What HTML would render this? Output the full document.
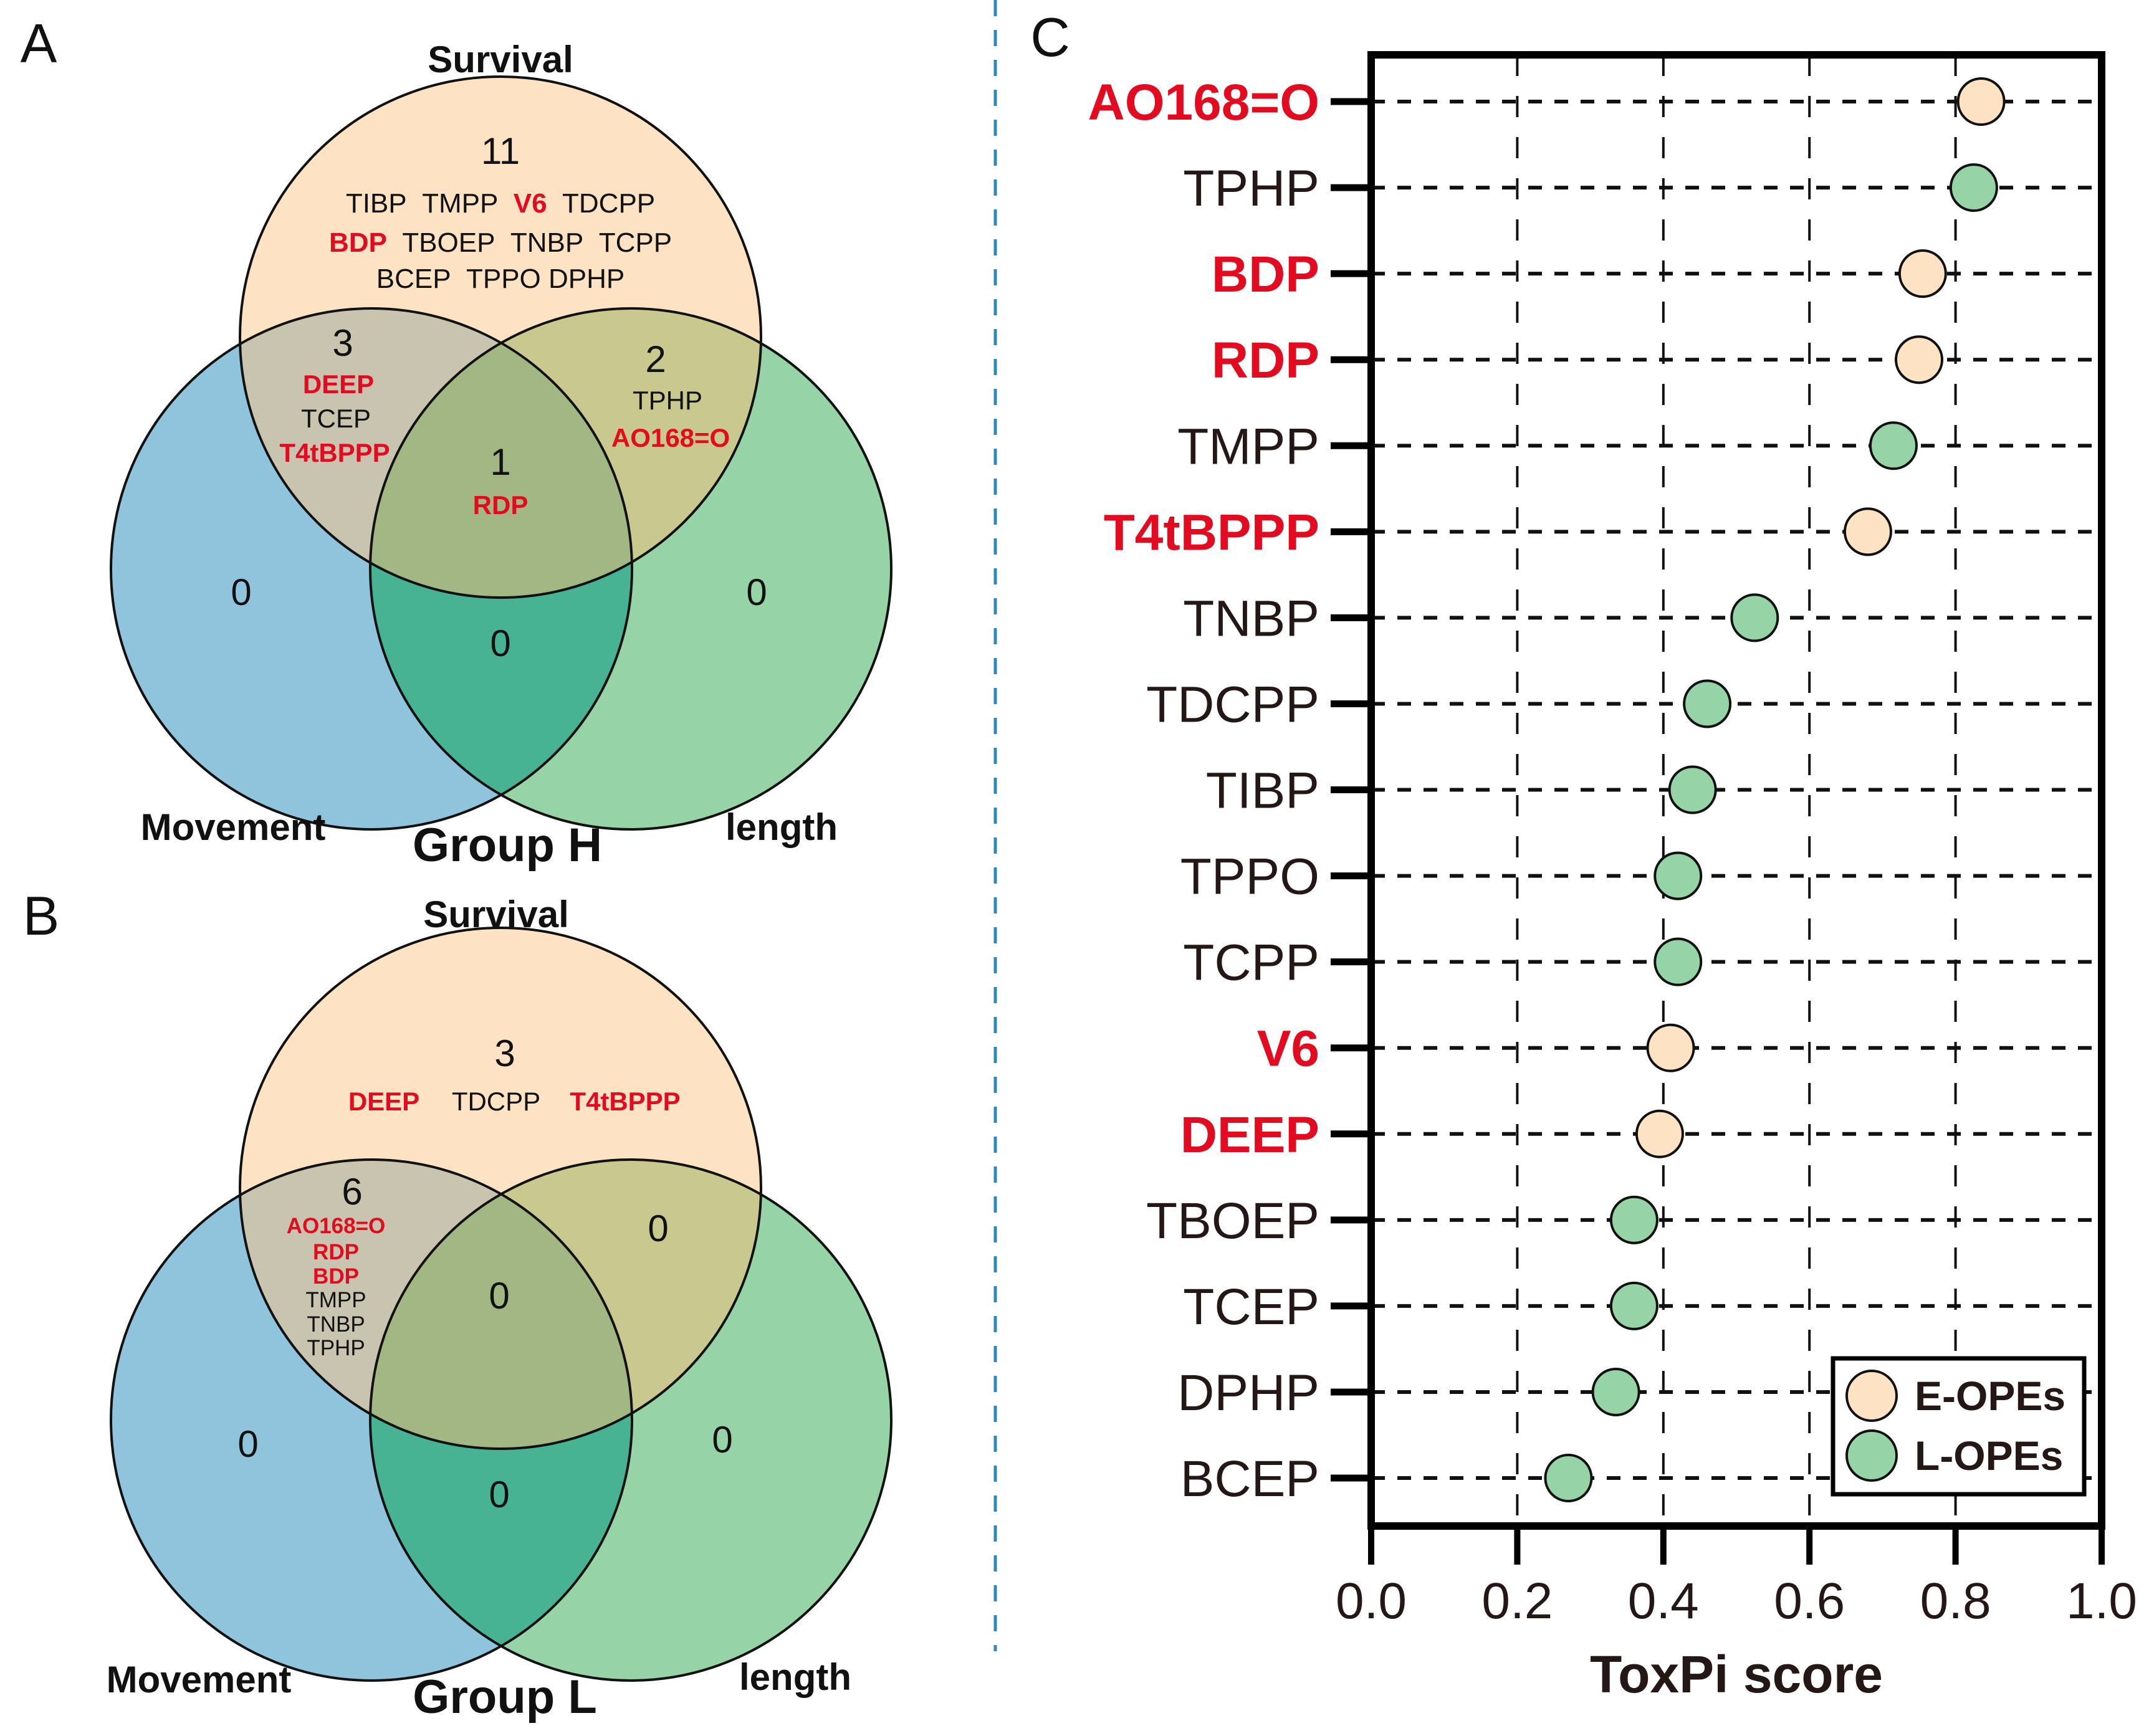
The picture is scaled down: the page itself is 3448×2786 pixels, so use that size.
<!DOCTYPE html>
<html><head><meta charset="utf-8"><style>
html,body{margin:0;padding:0;background:#fff;}
svg{display:block;font-family:"Liberation Sans",Arial,sans-serif;}
</style></head><body>
<svg id="fig" width="3448" height="2786" viewBox="0 0 3448 2786" xmlns="http://www.w3.org/2000/svg">
<defs>
 <clipPath id="cTA"><circle cx="803" cy="541" r="418"/></clipPath>
 <clipPath id="cLA"><circle cx="596" cy="913" r="418"/></clipPath>
 <clipPath id="cRA"><circle cx="1012" cy="913" r="418"/></clipPath>
 <clipPath id="cTB"><circle cx="803" cy="1907" r="418"/></clipPath>
 <clipPath id="cLB"><circle cx="596" cy="2279" r="418"/></clipPath>
 <clipPath id="cRB"><circle cx="1012" cy="2279" r="418"/></clipPath>
</defs>

<!-- Venn A -->
<g>
 <circle cx="596" cy="913" r="418" fill="#90c4dc"/>
 <circle cx="1012" cy="913" r="418" fill="#96d4a8"/>
 <circle cx="803" cy="541" r="418" fill="#fde3c3"/>
 <g clip-path="url(#cLA)"><circle cx="1012" cy="913" r="418" fill="#47b393"/><circle cx="803" cy="541" r="418" fill="#c9c4b0"/></g>
 <g clip-path="url(#cRA)"><circle cx="803" cy="541" r="418" fill="#c9c98f"/></g>
 <g clip-path="url(#cLA)"><g clip-path="url(#cRA)"><circle cx="803" cy="541" r="418" fill="#a3b784"/></g></g>
 <g fill="none" stroke="#111" stroke-width="4">
  <circle cx="803" cy="541" r="418"/><circle cx="596" cy="913" r="418"/><circle cx="1012" cy="913" r="418"/>
 </g>
</g>
<!-- Venn B -->
<g>
 <circle cx="596" cy="2279" r="418" fill="#90c4dc"/>
 <circle cx="1012" cy="2279" r="418" fill="#96d4a8"/>
 <circle cx="803" cy="1907" r="418" fill="#fde3c3"/>
 <g clip-path="url(#cLB)"><circle cx="1012" cy="2279" r="418" fill="#47b393"/><circle cx="803" cy="1907" r="418" fill="#c9c4b0"/></g>
 <g clip-path="url(#cRB)"><circle cx="803" cy="1907" r="418" fill="#c9c98f"/></g>
 <g clip-path="url(#cLB)"><g clip-path="url(#cRB)"><circle cx="803" cy="1907" r="418" fill="#a3b784"/></g></g>
 <g fill="none" stroke="#111" stroke-width="4">
  <circle cx="803" cy="1907" r="418"/><circle cx="596" cy="2279" r="418"/><circle cx="1012" cy="2279" r="418"/>
 </g>
</g>

<g text-anchor="middle" fill="#111">
 <text x="62" y="100" font-size="88" text-anchor="middle">A</text>
 <text x="803" y="116" font-size="60" font-weight="bold">Survival</text>
 <text x="803" y="263" font-size="60">11</text>
 <text x="803" y="341" font-size="44">TIBP&#160;&#160;TMPP&#160;&#160;<tspan fill="#e30b1f" font-weight="bold">V6</tspan>&#160;&#160;TDCPP</text>
 <text x="803" y="404" font-size="44"><tspan fill="#e30b1f" font-weight="bold">BDP</tspan>&#160;&#160;TBOEP&#160;&#160;TNBP&#160;&#160;TCPP</text>
 <text x="803" y="462" font-size="44">BCEP&#160;&#160;TPPO&#160;DPHP</text>
 <text x="550" y="571" font-size="60">3</text>
 <text x="543" y="631" font-size="42" font-weight="bold" fill="#e30b1f">DEEP</text>
 <text x="539" y="686" font-size="42">TCEP</text>
 <text x="537" y="741" font-size="42" font-weight="bold" fill="#e30b1f">T4tBPPP</text>
 <text x="1052" y="597" font-size="60">2</text>
 <text x="1071" y="657" font-size="42">TPHP</text>
 <text x="1076" y="717" font-size="42" font-weight="bold" fill="#e30b1f">AO168=O</text>
 <text x="803" y="762" font-size="60">1</text>
 <text x="803" y="825" font-size="42" font-weight="bold" fill="#e30b1f">RDP</text>
 <text x="387" y="971" font-size="60">0</text>
 <text x="1214" y="971" font-size="60">0</text>
 <text x="803" y="1053" font-size="60">0</text>
 <text x="374" y="1348" font-size="60" font-weight="bold">Movement</text>
 <text x="814" y="1382" font-size="76" font-weight="bold">Group H</text>
 <text x="1254" y="1348" font-size="60" font-weight="bold">length</text>

 <text x="66" y="1500" font-size="88">B</text>
 <text x="796" y="1488" font-size="60" font-weight="bold">Survival</text>
 <text x="810" y="1711" font-size="60">3</text>
 <text x="616" y="1782" font-size="42" font-weight="bold" fill="#e30b1f">DEEP</text>
 <text x="796" y="1782" font-size="42">TDCPP</text>
 <text x="1003" y="1782" font-size="42" font-weight="bold" fill="#e30b1f">T4tBPPP</text>
 <text x="565" y="1933" font-size="60">6</text>
 <text x="539" y="1979" font-size="35" font-weight="bold" fill="#e30b1f">AO168=O</text>
 <text x="539" y="2021" font-size="35" font-weight="bold" fill="#e30b1f">RDP</text>
 <text x="539" y="2060" font-size="35" font-weight="bold" fill="#e30b1f">BDP</text>
 <text x="539" y="2098" font-size="35">TMPP</text>
 <text x="539" y="2137" font-size="35">TNBP</text>
 <text x="539" y="2175" font-size="35">TPHP</text>
 <text x="1056" y="1992" font-size="60">0</text>
 <text x="801" y="2100" font-size="60">0</text>
 <text x="398" y="2338" font-size="60">0</text>
 <text x="1159" y="2331" font-size="60">0</text>
 <text x="801" y="2419" font-size="60">0</text>
 <text x="319" y="2716" font-size="60" font-weight="bold">Movement</text>
 <text x="810" y="2749" font-size="76" font-weight="bold">Group L</text>
 <text x="1276" y="2712" font-size="60" font-weight="bold">length</text>
</g>

<line x1="1597" y1="0" x2="1597" y2="2650" stroke="#2a8ac0" stroke-width="5" stroke-dasharray="26,22"/>
<text x="1685" y="90" font-size="88" text-anchor="middle" fill="#111">C</text>

<g id="chart"></g>
</svg>
<script>
const categories = ["AO168=O","TPHP","BDP","RDP","TMPP","T4tBPPP","TNBP","TDCPP","TIBP","TPPO","TCPP","V6","DEEP","TBOEP","TCEP","DPHP","BCEP"];
const scores = [0.835,0.825,0.755,0.75,0.715,0.68,0.525,0.46,0.44,0.42,0.42,0.41,0.395,0.36,0.36,0.335,0.27];
const groups = ["E","L","E","E","L","E","L","L","L","L","L","E","E","L","L","L","L"];
const xTicks = [0,0.2,0.4,0.6,0.8,1.0];
const xTickLabels = ["0.0","0.2","0.4","0.6","0.8","1.0"];

const NS="http://www.w3.org/2000/svg";
const g=document.getElementById('chart');
const L=2200,R=3372,T=88,B=2449,Y0=163,Y1=2372;
const xs=v=>L+(R-L)*v;
const ys=i=>Y0+(Y1-Y0)*i/(categories.length-1);
function mk(tag,attrs,parent){const e=document.createElementNS(NS,tag);for(const k in attrs)e.setAttribute(k,attrs[k]);(parent||g).appendChild(e);return e;}
const fills={E:"#fde3c3",L:"#96d4a8"};
const redSet=new Set(["AO168=O","BDP","RDP","T4tBPPP","V6","DEEP"]);

// vertical grid
xTicks.forEach((t,i)=>{
  if(i===0||i===xTicks.length-1)return;
  const l=mk('line',{x1:xs(t),y1:T,x2:xs(t),y2:B,stroke:"#111","stroke-width":4,"stroke-dasharray":"34,32"});
  
  
});
// rows
categories.forEach((c,i)=>{
  const y=ys(i);
  const l=mk('line',{x1:L,y1:y,x2:R,y2:y,stroke:"#111","stroke-width":6,"stroke-dasharray":"22,20"});
  
  
  const tk=mk('line',{x1:2135,y1:y,x2:L,y2:y,stroke:"#000","stroke-width":11});
  
  
  const red=redSet.has(c);
  const tx=mk('text',{x:2117,y:y+29,"text-anchor":"end","font-size":82,fill:red?"#e30b1f":"#231815","font-weight":red?"bold":"normal"});
  tx.textContent=c;
  
  
});
// points
categories.forEach((c,i)=>{
  const p=mk('circle',{cx:xs(scores[i]),cy:ys(i),r:37,fill:fills[groups[i]],stroke:"#111","stroke-width":4});
  
  
});
// frame
const fr=mk('rect',{x:L,y:T,width:R-L,height:B-T,fill:"none",stroke:"#000","stroke-width":12});


// x ticks
xTicks.forEach((t,i)=>{
  const k=mk('line',{x1:xs(t),y1:B,x2:xs(t),y2:B+62,stroke:"#000","stroke-width":10});
  
  
  const tl=mk('text',{x:xs(t),y:2597,"text-anchor":"middle","font-size":82,fill:"#231815"});
  tl.textContent=xTickLabels[i];
  
  
});
const xt=mk('text',{x:(L+R)/2,y:2716,"text-anchor":"middle","font-size":84,"font-weight":"bold",fill:"#231815"});
xt.textContent="ToxPi score";


// legend
const lg=mk('g',{});


mk('rect',{x:2941,y:2180,width:403,height:218,fill:"#fff",stroke:"#000","stroke-width":7},lg);
[["E","E-OPEs",2240],["L","L-OPEs",2336]].forEach(([k,lab,y])=>{
  const e=mk('g',{},lg);
  
  
  mk('circle',{cx:3003,cy:y,r:40,fill:fills[k],stroke:"#111","stroke-width":4},e);
  const t=mk('text',{x:3072,y:y+23,"font-size":66,"font-weight":"bold",fill:"#231815"},e);
  t.textContent=lab;
});
</script>
</body></html>
